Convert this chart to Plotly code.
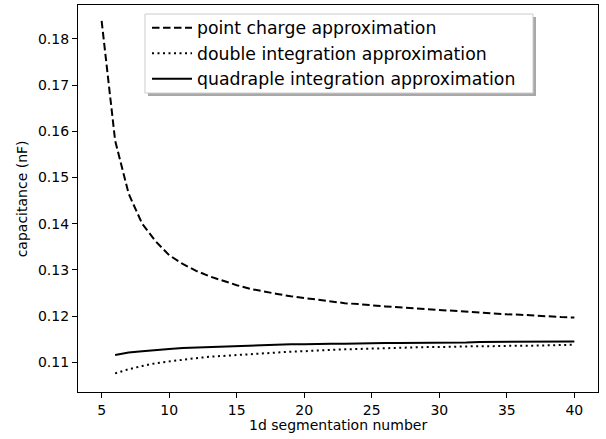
import plotly.graph_objects as go

n_point = list(range(5, 41))
point_charge = [0.1839, 0.1580, 0.1465, 0.1400, 0.1362, 0.1332, 0.1313, 0.1298, 0.1286, 0.1276,
                0.1267, 0.1259, 0.1253, 0.1248, 0.1243, 0.1239, 0.1235, 0.1231, 0.1228, 0.1226,
                0.1223, 0.1221, 0.1219, 0.1217, 0.1215, 0.1213, 0.1211, 0.1209, 0.1207, 0.1206,
                0.1204, 0.1203, 0.1201, 0.1200, 0.1198, 0.1197]

n_int = list(range(6, 41))
double_int = [0.1076, 0.1085, 0.1092, 0.1098, 0.1102, 0.1106, 0.1109, 0.1112, 0.1114, 0.1116,
              0.1118, 0.1120, 0.1122, 0.1123, 0.1124, 0.1126, 0.1127, 0.1128, 0.1129, 0.1130,
              0.1131, 0.1131, 0.1132, 0.1133, 0.1133, 0.1134, 0.1134, 0.1135, 0.1135, 0.1136,
              0.1136, 0.1136, 0.1137, 0.1137, 0.1138]
quad_int = [0.1116, 0.1121, 0.1124, 0.1127, 0.1129, 0.1131, 0.1132, 0.1134, 0.1135, 0.1136,
            0.1137, 0.1137, 0.1138, 0.1139, 0.1139, 0.1140, 0.1140, 0.1140, 0.1141, 0.1141,
            0.1142, 0.1142, 0.1142, 0.1143, 0.1143, 0.1143, 0.1143, 0.1144, 0.1144, 0.1144,
            0.1144, 0.1144, 0.1145, 0.1145, 0.1145]

x_ticks = [5, 10, 15, 20, 25, 30, 35, 40]
y_ticks = [0.11, 0.12, 0.13, 0.14, 0.15, 0.16, 0.17, 0.18]

FONT = "DejaVu Sans"

fig = go.Figure()
fig.add_trace(go.Scatter(x=n_point, y=point_charge, mode="lines", name="point charge approximation",
                         line=dict(color="black", width=2, dash="7.5px,3.5px")))
fig.add_trace(go.Scatter(x=n_int, y=double_int, mode="lines", name="double integration approximation",
                         line=dict(color="black", width=2, dash="2px,3.5px")))
fig.add_trace(go.Scatter(x=n_int, y=quad_int, mode="lines", name="quadraple integration approximation",
                         line=dict(color="black", width=2)))

fig.update_layout(
    width=606, height=439,
    margin=dict(l=78, r=8, t=5, b=47),
    paper_bgcolor="white", plot_bgcolor="white",
    font=dict(family=FONT, size=14, color="black"),
    showlegend=True,
    legend=dict(x=0.1327, y=0.9872, xanchor="left", yanchor="top",
                bgcolor="rgba(0,0,0,0)", borderwidth=0,
                font=dict(family=FONT, size=17.3, color="black"),
                tracegroupgap=0, itemwidth=40),
    shapes=[
        dict(type="rect", xref="paper", yref="paper", x0=0.1346, x1=0.8808, y0=0.7649, y1=0.969,
             fillcolor="#a8a8a8", line=dict(width=0), layer="above"),
        dict(type="rect", xref="paper", yref="paper", x0=0.1288, x1=0.875, y0=0.7726, y1=0.9767,
             fillcolor="white", line=dict(width=1, color="#cccccc"), layer="above"),
    ],
    annotations=[
        dict(text="1d segmentation number", xref="paper", yref="paper", x=0.5, y=-0.085,
             xanchor="center", yanchor="middle", showarrow=False, font=dict(size=14)),
        dict(text="capacitance (nF)", xref="paper", yref="paper", x=-0.108, y=0.5, textangle=-90,
             xanchor="center", yanchor="middle", showarrow=False, font=dict(size=14)),
    ],
)
fig.update_xaxes(range=[3.25, 41.75], tickvals=x_ticks, ticks="outside", ticklen=5, tickwidth=1.2,
                 tickcolor="black", showline=True, linecolor="black", linewidth=1.2, mirror=True,
                 showgrid=False, zeroline=False, automargin=False)
fig.update_yaxes(range=[0.10357, 0.18736], tickvals=y_ticks, tickformat=".2f", ticks="outside",
                 ticklen=5, tickwidth=1.2, tickcolor="black", showline=True, linecolor="black",
                 linewidth=1.2, mirror=True, showgrid=False, zeroline=False, automargin=False)

fig.write_html("out.html", config={"displayModeBar": False},
               post_script="document.body.style.margin='0';")
